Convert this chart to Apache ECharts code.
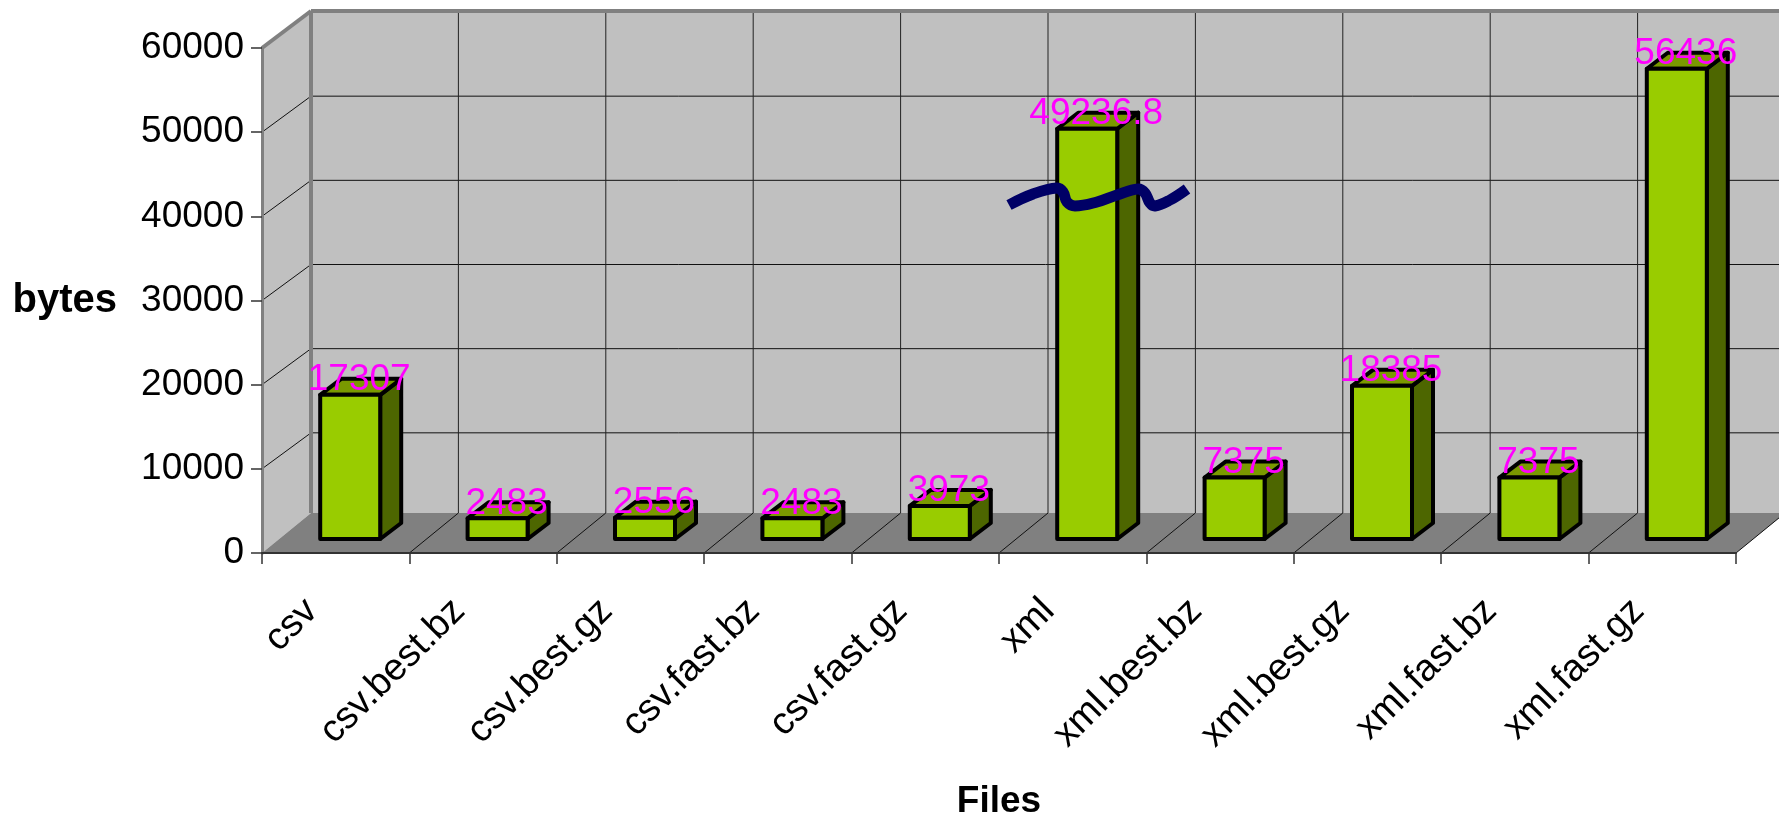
<!DOCTYPE html>
<html>
<head>
<meta charset="utf-8">
<style>html,body{margin:0;padding:0;background:#fff}#chart{width:1779px;height:816px}</style>
<script src="https://cdn.jsdelivr.net/npm/echarts@6/dist/echarts.min.js"></script>
</head>
<body>
<div id="chart"></div>
<script>
const fileNames = ['csv', 'csv.best.bz', 'csv.best.gz', 'csv.fast.bz', 'csv.fast.gz', 'xml', 'xml.best.bz', 'xml.best.gz', 'xml.fast.bz', 'xml.fast.gz'];
const fileSizes = [17307, 2483, 2556, 2483, 3973, 49236.8, 7375, 18385, 7375, 56436];
const yTicks = [0, 10000, 20000, 30000, 40000, 50000, 60000];

const FONT = '"Liberation Sans", Arial, sans-serif';

// Oblique projection of the box the columns stand in.
const WALL_DX = 49, WALL_DY = 36, TOP_DY = 37, FLOOR_DY = 40;
const BAR_WIDTH = 60, BAR_DX = 21, BAR_DY = 16;
const BAR_FRONT_DX = 14.5, BAR_FRONT_DY = 14, BAR_SCALE = 0.99;

const chart = echarts.init(document.getElementById('chart'), null, { renderer: 'canvas' });

function poly(points, fill, stroke, lineWidth) {
  return {
    type: 'polygon',
    shape: { points },
    style: { fill, stroke: stroke || 'none', lineWidth: lineWidth || 0, lineJoin: 'round' }
  };
}
function seg(x1, y1, x2, y2, stroke, lineWidth) {
  return {
    type: 'line',
    shape: { x1, y1, x2, y2 },
    style: { stroke, lineWidth: lineWidth || 1 }
  };
}

// Side wall, back wall, floor and their grid lines.
function renderBox(params, api) {
  const band = api.size([1, 0])[0];
  const left = api.coord([0, 0])[0] - band / 2;
  const right = left + band * fileNames.length;
  const y0 = api.coord([0, 0])[1];
  const yTop = api.coord([0, 60000])[1];
  const children = [
    poly([[left, y0], [left, yTop], [left + WALL_DX, yTop - TOP_DY], [left + WALL_DX, y0 - FLOOR_DY]], '#c0c0c0'),
    poly([[left + WALL_DX, yTop - TOP_DY], [right + WALL_DX, yTop - TOP_DY], [right + WALL_DX, y0 - FLOOR_DY], [left + WALL_DX, y0 - FLOOR_DY]], '#c0c0c0')
  ];
  yTicks.slice(1, -1).forEach(function (v) {
    const y = api.coord([0, v])[1];
    children.push(seg(left, y, left + WALL_DX, y - WALL_DY, '#111', 1));
    children.push(seg(left + WALL_DX, y - WALL_DY, right + WALL_DX, y - WALL_DY, '#111', 1));
  });
  for (let i = 1; i < fileNames.length; i++) {
    const x = left + band * i;
    children.push(seg(x + WALL_DX, yTop - TOP_DY, x + WALL_DX, y0 - FLOOR_DY, '#222', 1));
  }
  children.push(poly([[left, y0], [right, y0], [right + WALL_DX, y0 - FLOOR_DY], [left + WALL_DX, y0 - FLOOR_DY]], '#808080'));
  for (let i = 1; i <= fileNames.length; i++) {
    const x = left + band * i;
    children.push(seg(x, y0, x + WALL_DX, y0 - FLOOR_DY, '#111', 1));
  }
  children.push(seg(left + WALL_DX, yTop - TOP_DY, left + WALL_DX, y0 - FLOOR_DY, '#808080', 4));
  children.push(seg(left, yTop, left + WALL_DX, yTop - TOP_DY, '#808080', 4));
  children.push(seg(left + WALL_DX, yTop - TOP_DY, right + WALL_DX, yTop - TOP_DY, '#808080', 4));
  return { type: 'group', children };
}

// One extruded column per file.
function renderColumn(params, api) {
  const idx = api.value(0);
  const value = api.value(1);
  const base = api.coord([idx, 0]);
  const tip = api.coord([idx, value]);
  const x0 = base[0] + BAR_FRONT_DX - BAR_WIDTH / 2;
  const x1 = x0 + BAR_WIDTH;
  const yB = base[1] - BAR_FRONT_DY;
  const yT = yB - (base[1] - tip[1]) * BAR_SCALE;
  return {
    type: 'group',
    children: [
      poly([[x1, yB], [x1, yT], [x1 + BAR_DX, yT - BAR_DY], [x1 + BAR_DX, yB - BAR_DY]], '#4d6600', '#000', 4),
      poly([[x0, yT], [x1, yT], [x1 + BAR_DX, yT - BAR_DY], [x0 + BAR_DX, yT - BAR_DY]], '#7a9900', '#000', 4),
      poly([[x0, yB], [x1, yB], [x1, yT], [x0, yT]], '#99cc00', '#000', 4)
    ]
  };
}

// The value printed over each column's top edge.
function renderValue(params, api) {
  const idx = api.value(0);
  const value = api.value(1);
  const base = api.coord([idx, 0]);
  const tip = api.coord([idx, value]);
  const yT = base[1] - BAR_FRONT_DY - (base[1] - tip[1]) * BAR_SCALE;
  return {
    type: 'text',
    style: {
      x: base[0] + BAR_FRONT_DX + BAR_DX / 2 - 1.5,
      y: yT - 15,
      text: String(value),
      fill: '#ff00ff',
      font: '37px ' + FONT,
      align: 'center',
      verticalAlign: 'middle'
    }
  };
}

const seriesData = fileSizes.map(function (v, i) { return [i, v]; });

chart.setOption({
  animation: false,
  backgroundColor: '#ffffff',
  grid: { left: 262, right: 43, top: 48, bottom: 263, containLabel: false, outerBoundsMode: 'none' },
  xAxis: {
    type: 'category',
    data: fileNames,
    z: 2,
    name: 'Files',
    nameLocation: 'middle',
    nameGap: 230,
    nameTextStyle: { fontFamily: FONT, fontSize: 37, fontWeight: 'bold', color: '#000' },
    axisLine: { lineStyle: { color: '#333', width: 2 } },
    axisTick: { show: true, length: 11, lineStyle: { color: '#333', width: 1.5 } },
    axisLabel: {
      interval: 0,
      rotate: 45,
      margin: 28,
      padding: [0, 34, 0, 0],
      fontFamily: FONT,
      fontSize: 38,
      color: '#000'
    },
    splitLine: { show: false }
  },
  yAxis: {
    type: 'value',
    min: 0,
    max: 60000,
    interval: 10000,
    z: 2,
    name: 'bytes',
    nameLocation: 'middle',
    nameRotate: 0,
    nameGap: 145,
    nameTextStyle: { fontFamily: FONT, fontSize: 40, fontWeight: 'bold', color: '#000' },
    axisLine: { show: true, lineStyle: { color: '#808080', width: 3 } },
    axisTick: { show: true, length: 11, lineStyle: { color: '#333', width: 1.5 } },
    axisLabel: { margin: 18, fontFamily: FONT, fontSize: 37, color: '#000', formatter: function (v) { return String(v); } },
    splitLine: { show: false }
  },
  // Wavy stroke across the xml column, marking the axis break.
  graphic: [{
    type: 'polyline',
    z: 20,
    shape: {
      points: [[1009, 205], [1033, 194], [1057, 188], [1063, 192], [1067, 202], [1075, 206], [1097, 202], [1117, 195], [1138, 189], [1145, 193], [1150, 203], [1155, 206], [1170, 200], [1187, 189]],
      smooth: 0.4
    },
    style: { fill: 'none', stroke: '#000066', lineWidth: 11, lineCap: 'butt', lineJoin: 'round' }
  }],
  series: [
    { type: 'custom', name: 'box', z: 1, silent: true, clip: false, data: [[0, 0]], renderItem: renderBox },
    { type: 'custom', name: 'columns', z: 3, silent: true, clip: false, data: seriesData, encode: { x: 0, y: 1 }, renderItem: renderColumn },
    { type: 'custom', name: 'values', z: 4, silent: true, clip: false, data: seriesData, encode: { x: 0, y: 1 }, renderItem: renderValue }
  ]
});
</script>
</body>
</html>
